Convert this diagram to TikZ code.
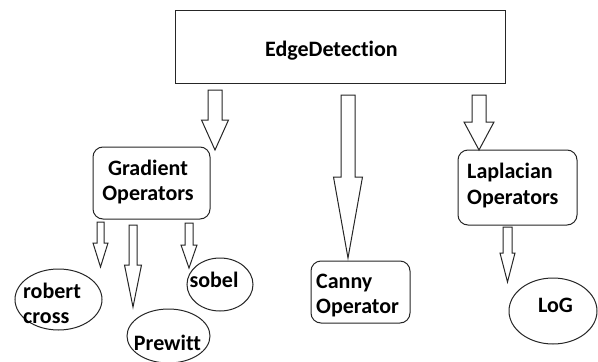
\documentclass[tikz,border=0pt]{standalone}
\usepackage{fontspec}
\setmainfont[Ligatures=NoCommon]{Carlito}
\usetikzlibrary{shapes.geometric}

% block arrow: top-centre x, top y, shaft half width, head start y, head half width, tip y
\newcommand\blockarrow[6]{%
  \draw[arrowline] (#1-#3,#2) -- (#1+#3,#2) -- (#1+#3,#4) -- (#1+#5,#4)
    -- (#1,#6) -- (#1-#5,#4) -- (#1-#3,#4) -- cycle;}

\begin{document}
\begin{tikzpicture}[x=1pt,y=-1pt,
  every node/.style={font=\fontsize{22}{25.5}\selectfont\bfseries, inner sep=0pt},
  arrowline/.style={draw=black!85, line width=1pt, fill=white},
  rbox/.style={draw=black!85, line width=1pt, rounded corners=10pt, fill=white},
  oval/.style={ellipse, draw=black!85, line width=1pt, fill=white},
  lbl/.style={align=left},
  clbl/.style={align=center}]
\useasboundingbox (0,0) rectangle (598,362);

% root box
\node[draw=black!85, line width=1pt, minimum width=330pt, minimum height=73pt] (edge) at (340,46.5) {};
\node (edgetext) at (331.5,51) {EdgeDetection};

% second level boxes
\node[rbox, minimum width=117pt, minimum height=72pt] (grad) at (151.5,183) {};
\node[clbl, anchor=center] (gradtext) at (148,182) {Gradient\\Operators};

\node[rbox, minimum width=99pt, minimum height=62pt] (canny) at (360.5,292) {};
\node[lbl, anchor=west] (cannytext) at (316,295.5) {Canny\\Operator};

\node[rbox, minimum width=119pt, minimum height=75pt] (lap) at (517.5,187.5) {};
\node[lbl, anchor=west] (laptext) at (467,185.5) {Laplacian\\Operators};

% leaves
\node[oval, minimum width=87pt, minimum height=61pt] (robert) at (58.5,299.5) {};
\node[lbl, anchor=west] (roberttext) at (23,303.5) {robert\\cross};

\node[oval, minimum width=66pt, minimum height=53pt] (sobel) at (220,284.5) {};
\node (sobeltext) at (214,280) {sobel};

\node[oval, minimum width=83pt, minimum height=54pt] (prewitt) at (168.5,336) {};
\node (prewitttext) at (167.5,343) {Prewitt};

\node[oval, minimum width=88pt, minimum height=66pt] (log) at (553,311) {};
\node (logtext) at (555.5,305) {LoG};

% block arrows
\blockarrow{215}{90}{7}{120}{13.5}{150}
\blockarrow{348}{95}{7}{177}{14.5}{258}
\blockarrow{479}{95}{7}{122}{15}{150}
\blockarrow{100.5}{222}{3.5}{243}{7.5}{267}
\blockarrow{133}{225}{4}{265}{8.5}{307}
\blockarrow{189}{223}{4}{245}{8}{268}
\blockarrow{507.5}{227}{4.5}{253}{7.5}{282}
\end{tikzpicture}
\end{document}
